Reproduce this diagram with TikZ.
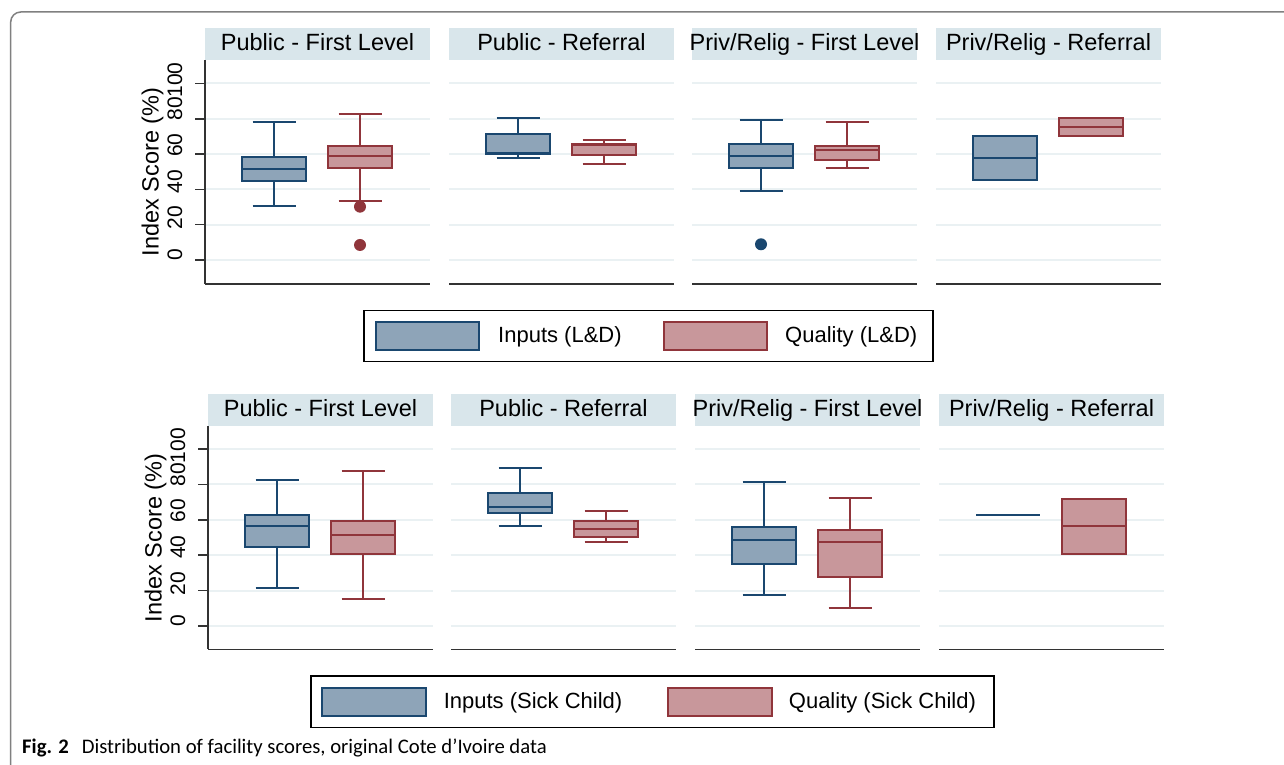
\documentclass[tikz,border=0pt]{standalone}
\usepackage{fontspec}
\setmainfont{Liberation Sans}
\newfontfamily\capfont{Carlito}
\definecolor{sblue}{HTML}{1A476F}
\definecolor{sbluefill}{HTML}{8EA4B8}
\definecolor{sred}{HTML}{90353B}
\definecolor{sredfill}{HTML}{C8979B}
\definecolor{stripc}{HTML}{D9E6EB}
\definecolor{gridc}{HTML}{EAF1F3}
\definecolor{framec}{HTML}{808080}
\definecolor{axisc}{HTML}{333333}
\def\vsc{1.766}
\newcommand\bxp[9]{%
  \draw[#9whisk] ({#1+#3},{#2-\vsc*#4}) -- ({#1+#3},{#2-\vsc*#5});
  \draw[#9whisk] ({#1+#3},{#2-\vsc*#7}) -- ({#1+#3},{#2-\vsc*#8});
  \draw[#9whisk] ({#1+#3-21.5},{#2-\vsc*#4}) -- ({#1+#3+21.5},{#2-\vsc*#4});
  \draw[#9whisk] ({#1+#3-21.5},{#2-\vsc*#8}) -- ({#1+#3+21.5},{#2-\vsc*#8});
  \filldraw[#9box] ({#1+#3-32},{#2-\vsc*#5}) rectangle ({#1+#3+32},{#2-\vsc*#7});
  \draw[#9box] ({#1+#3-32},{#2-\vsc*#6}) -- ({#1+#3+32},{#2-\vsc*#6});
}
\newcommand\bxonly[6]{% left, base, offset, q1, q3, color
  \filldraw[#6box] ({#1+#3-32},{#2-\vsc*#4}) rectangle ({#1+#3+32},{#2-\vsc*#5});
}
\newcommand\panelgrid[2]{% left, base
  \foreach \g in {0,20,...,100}{\draw[gridln] (#1,{#2-\vsc*\g}) -- ({#1+225},{#2-\vsc*\g});}
}
\tikzset{
  bwhisk/.style={draw=sblue, line width=1.8pt},
  rwhisk/.style={draw=sred, line width=1.8pt},
  bbox/.style={draw=sblue, fill=sbluefill, line width=2pt},
  rbox/.style={draw=sred, fill=sredfill, line width=2pt},
  gridln/.style={draw=gridc, line width=2pt},
  axisln/.style={draw=axisc, line width=1.6pt},
  striptext/.style={inner sep=0pt, anchor=base, font=\fontsize{23.5}{28}\selectfont},
  ticklab/.style={inner sep=0pt, rotate=90, font=\fontsize{21}{25}\selectfont},
  ylab/.style={inner sep=0pt, rotate=90, font=\fontsize{23.5}{28}\selectfont},
  legtext/.style={inner sep=0pt, anchor=west, font=\fontsize{22}{26}\selectfont},
}
\begin{document}
\begin{tikzpicture}[x=1pt, y=-1pt]
\useasboundingbox (0,0) rectangle (1284,765);
\fill[white] (0,0) rectangle (1284,765);
% frame
\draw[framec, line width=1.5pt, rounded corners=10pt] (10.7,766) -- (10.7,12) -- (1285,12);

% ================= TOP ROW =================
\def\vsc{1.766}
\foreach \L in {205,449,692,936}{
  \fill[stripc] (\L,28) rectangle ({\L+225},60);
  \panelgrid{\L}{260}
  \draw[axisln] (\L,284) -- ({\L+225},284);
}
\node[striptext] (s1) at (317.5,50.5) {Public - First Level};
\node[striptext] (s2) at (561.5,50.5) {Public - Referral};
\node[striptext] (s3) at (804.5,50.5) {Priv/Relig - First Level};
\node[striptext] (s4) at (1048.5,50.5) {Priv/Relig - Referral};
% y axis
\draw[axisln] (205,60) -- (205,284);
\foreach \g/\o [count=\k] in {0/-5,20/-7,40/-8,60/-9,80/-10,100/-3.5}{
  \draw[axisln] (195,{260-\vsc*\g}) -- (205,{260-\vsc*\g});
  \node[ticklab] (ta\k) at (175,{260-\vsc*\g+\o}) {\g};
}
\node[ylab] (yla) at (152.5,172) {Index Score (\%)};
% boxes
\bxp{205}{260}{69}{30.4}{44.7}{51.5}{58.3}{78.1}{b}
\bxp{205}{260}{155}{33.4}{52.3}{58.9}{64.6}{82.7}{r}
\fill[sred] (360,{260-\vsc*30.2}) circle (6);
\fill[sred] (360,{260-\vsc*8.5}) circle (6);
\bxp{449}{260}{69}{57.7}{59.8}{60.4}{71.2}{80.2}{b}
\bxp{449}{260}{155}{54.4}{59.2}{65.1}{65.7}{67.8}{r}
\bxp{692}{260}{69}{38.9}{52.3}{58.7}{65.7}{79.5}{b}
\bxp{692}{260}{155}{52.1}{56.6}{62.5}{64.6}{78.1}{r}
\fill[sblue] (761,{260-\vsc*8.9}) circle (6);
\bxonly{936}{260}{69}{45.1}{70.2}{b}
\draw[bbox] ({936+69-32},{260-\vsc*57.9}) -- ({936+69+32},{260-\vsc*57.9});
\bxonly{936}{260}{155}{70}{80.6}{r}
\draw[rbox] ({936+155-32},{260-\vsc*75.3}) -- ({936+155+32},{260-\vsc*75.3});

% legend top
\draw[black, line width=1.5pt] (363.8,310.7) rectangle (933,361.7);
\filldraw[bbox] (376,322.3) rectangle (479,350);
\filldraw[rbox] (664,322.3) rectangle (767,350);
\node[legtext] (la) at (498,337) {Inputs (L\&D)};
\node[legtext] (lb) at (785,337) {Quality (L\&D)};

% ================= BOTTOM ROW =================
\def\vsc{1.77}
\foreach \L in {208,451,695,939}{
  \fill[stripc] (\L,394) rectangle ({\L+225},426);
  \panelgrid{\L}{626}
  \draw[axisln] (\L,649.3) -- ({\L+225},649.3);
}
\node[striptext] (t1) at (320.5,416) {Public - First Level};
\node[striptext] (t2) at (563.5,416) {Public - Referral};
\node[striptext] (t3) at (807.5,416) {Priv/Relig - First Level};
\node[striptext] (t4) at (1051.5,416) {Priv/Relig - Referral};
\draw[axisln] (208,426) -- (208,649.3);
\foreach \g/\o [count=\k] in {0/-5,20/-7,40/-8,60/-9,80/-10,100/-3.5}{
  \draw[axisln] (198,{626-\vsc*\g}) -- (208,{626-\vsc*\g});
  \node[ticklab] (tb\k) at (178,{626-\vsc*\g+\o}) {\g};
}
\node[ylab] (ylb) at (155.5,538) {Index Score (\%)};
\bxp{208}{626}{69}{21.6}{44.8}{56.7}{62.7}{82.7}{b}
\bxp{208}{626}{155}{15.1}{40.5}{51.4}{59.3}{87.6}{r}
\bxp{451}{626}{69}{56.5}{63.8}{67.4}{75.1}{89.4}{b}
\bxp{451}{626}{155}{47.5}{50.5}{55}{59.3}{65}{r}
\bxp{695}{626}{69}{17.3}{35.2}{48.4}{55.9}{81.4}{b}
\bxp{695}{626}{155}{10}{27.9}{47.5}{54.2}{72.5}{r}
\draw[bwhisk] ({939+69-32},{626-\vsc*62.7}) -- ({939+69+32},{626-\vsc*62.7});
\bxonly{939}{626}{155}{40.5}{71.9}{r}
\draw[rbox] ({939+155-32},{626-\vsc*56.3}) -- ({939+155+32},{626-\vsc*56.3});

% legend bottom
\draw[black, line width=1.5pt] (311,676) rectangle (994,727.7);
\filldraw[bbox] (322,688.3) rectangle (425.5,716);
\filldraw[rbox] (668,688.3) rectangle (771.5,716);
\node[legtext] (lc) at (443.6,702.5) {Inputs (Sick Child)};
\node[legtext] (ld) at (788.7,702.5) {Quality (Sick Child)};

% caption
\node[inner sep=0pt, anchor=west, font=\capfont\fontsize{20.7}{24}\selectfont] (cap) at (22,748) {\textbf{Fig. 2}\hspace{0.4em} Distribution of facility scores, original Cote d’Ivoire data};
\end{tikzpicture}
\end{document}
